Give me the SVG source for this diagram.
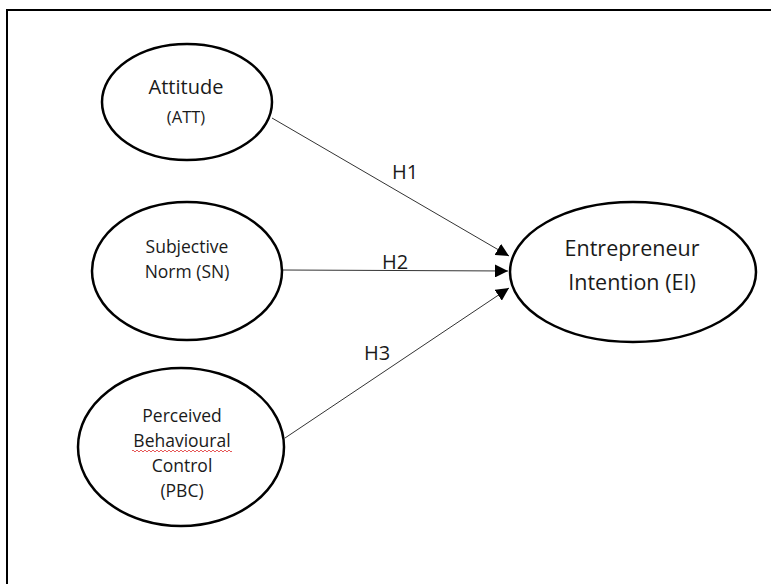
<svg xmlns="http://www.w3.org/2000/svg" width="771" height="584" viewBox="0 0 771 584">
<style>
.node ellipse{fill:#fff;stroke:#000;stroke-width:2.5}
text{font-family:"Open Sans","Noto Sans",sans-serif;fill:#1a1a1a;text-anchor:middle}
.conn line{stroke:#333;stroke-width:1}
.lbl{font-size:20px}
</style>
<defs>
<marker id="arr" viewBox="0 0 10 10" refX="10" refY="5" markerWidth="13" markerHeight="13" markerUnits="userSpaceOnUse" orient="auto">
<path d="M0,0 L10,5 L0,10 z" fill="#000"/>
</marker>
</defs>
<rect x="0" y="0" width="771" height="584" fill="#fff"/>
<rect x="7" y="10" width="800" height="620" fill="none" stroke="#000" stroke-width="2"/>
<g class="conn">
<line x1="272" y1="118" x2="509" y2="256" marker-end="url(#arr)"/>
<line x1="282" y1="270" x2="508" y2="271" marker-end="url(#arr)"/>
<line x1="285" y1="438" x2="509" y2="288" marker-end="url(#arr)"/>
<text class="lbl" x="405" y="179">H1</text>
<text class="lbl" x="395" y="269">H2</text>
<text class="lbl" x="377" y="360">H3</text>
</g>
<g id="att" class="node">
<ellipse cx="187" cy="102" rx="85" ry="58"/>
<text x="186" y="94" font-size="20">Attitude</text>
<text x="186" y="123" font-size="16.5">(ATT)</text>
</g>
<g id="sn" class="node">
<ellipse cx="187" cy="271" rx="95" ry="69"/>
<text x="187" y="253" font-size="17.5">Subjective</text>
<text x="187" y="278" font-size="17.5">Norm (SN)</text>
</g>
<g id="pbc" class="node">
<ellipse cx="181" cy="447" rx="103" ry="79"/>
<text x="182" y="422" font-size="17.5">Perceived</text>
<text x="182" y="447" font-size="17.5">Behavioural</text>
<path d="M132,451 q1,-2 2,0 t2,0 t2,0 t2,0 t2,0 t2,0 t2,0 t2,0 t2,0 t2,0 t2,0 t2,0 t2,0 t2,0 t2,0 t2,0 t2,0 t2,0 t2,0 t2,0 t2,0 t2,0 t2,0 t2,0 t2,0 t2,0 t2,0 t2,0 t2,0 t2,0 t2,0 t2,0 t2,0 t2,0 t2,0 t2,0 t2,0 t2,0 t2,0 t2,0 t2,0 t2,0 t2,0 t2,0 t2,0 t2,0 t2,0 t2,0 t2,0 t2,0" fill="none" stroke="#e03030" stroke-width="0.8"/>
<text x="182" y="472" font-size="17.5">Control</text>
<text x="182" y="497" font-size="17.5">(PBC)</text>
</g>
<g id="ei" class="node">
<ellipse cx="633" cy="272" rx="123" ry="70"/>
<text x="632" y="256" font-size="21.5">Entrepreneur</text>
<text x="632" y="290" font-size="21.5">Intention (EI)</text>
</g>
</svg>
